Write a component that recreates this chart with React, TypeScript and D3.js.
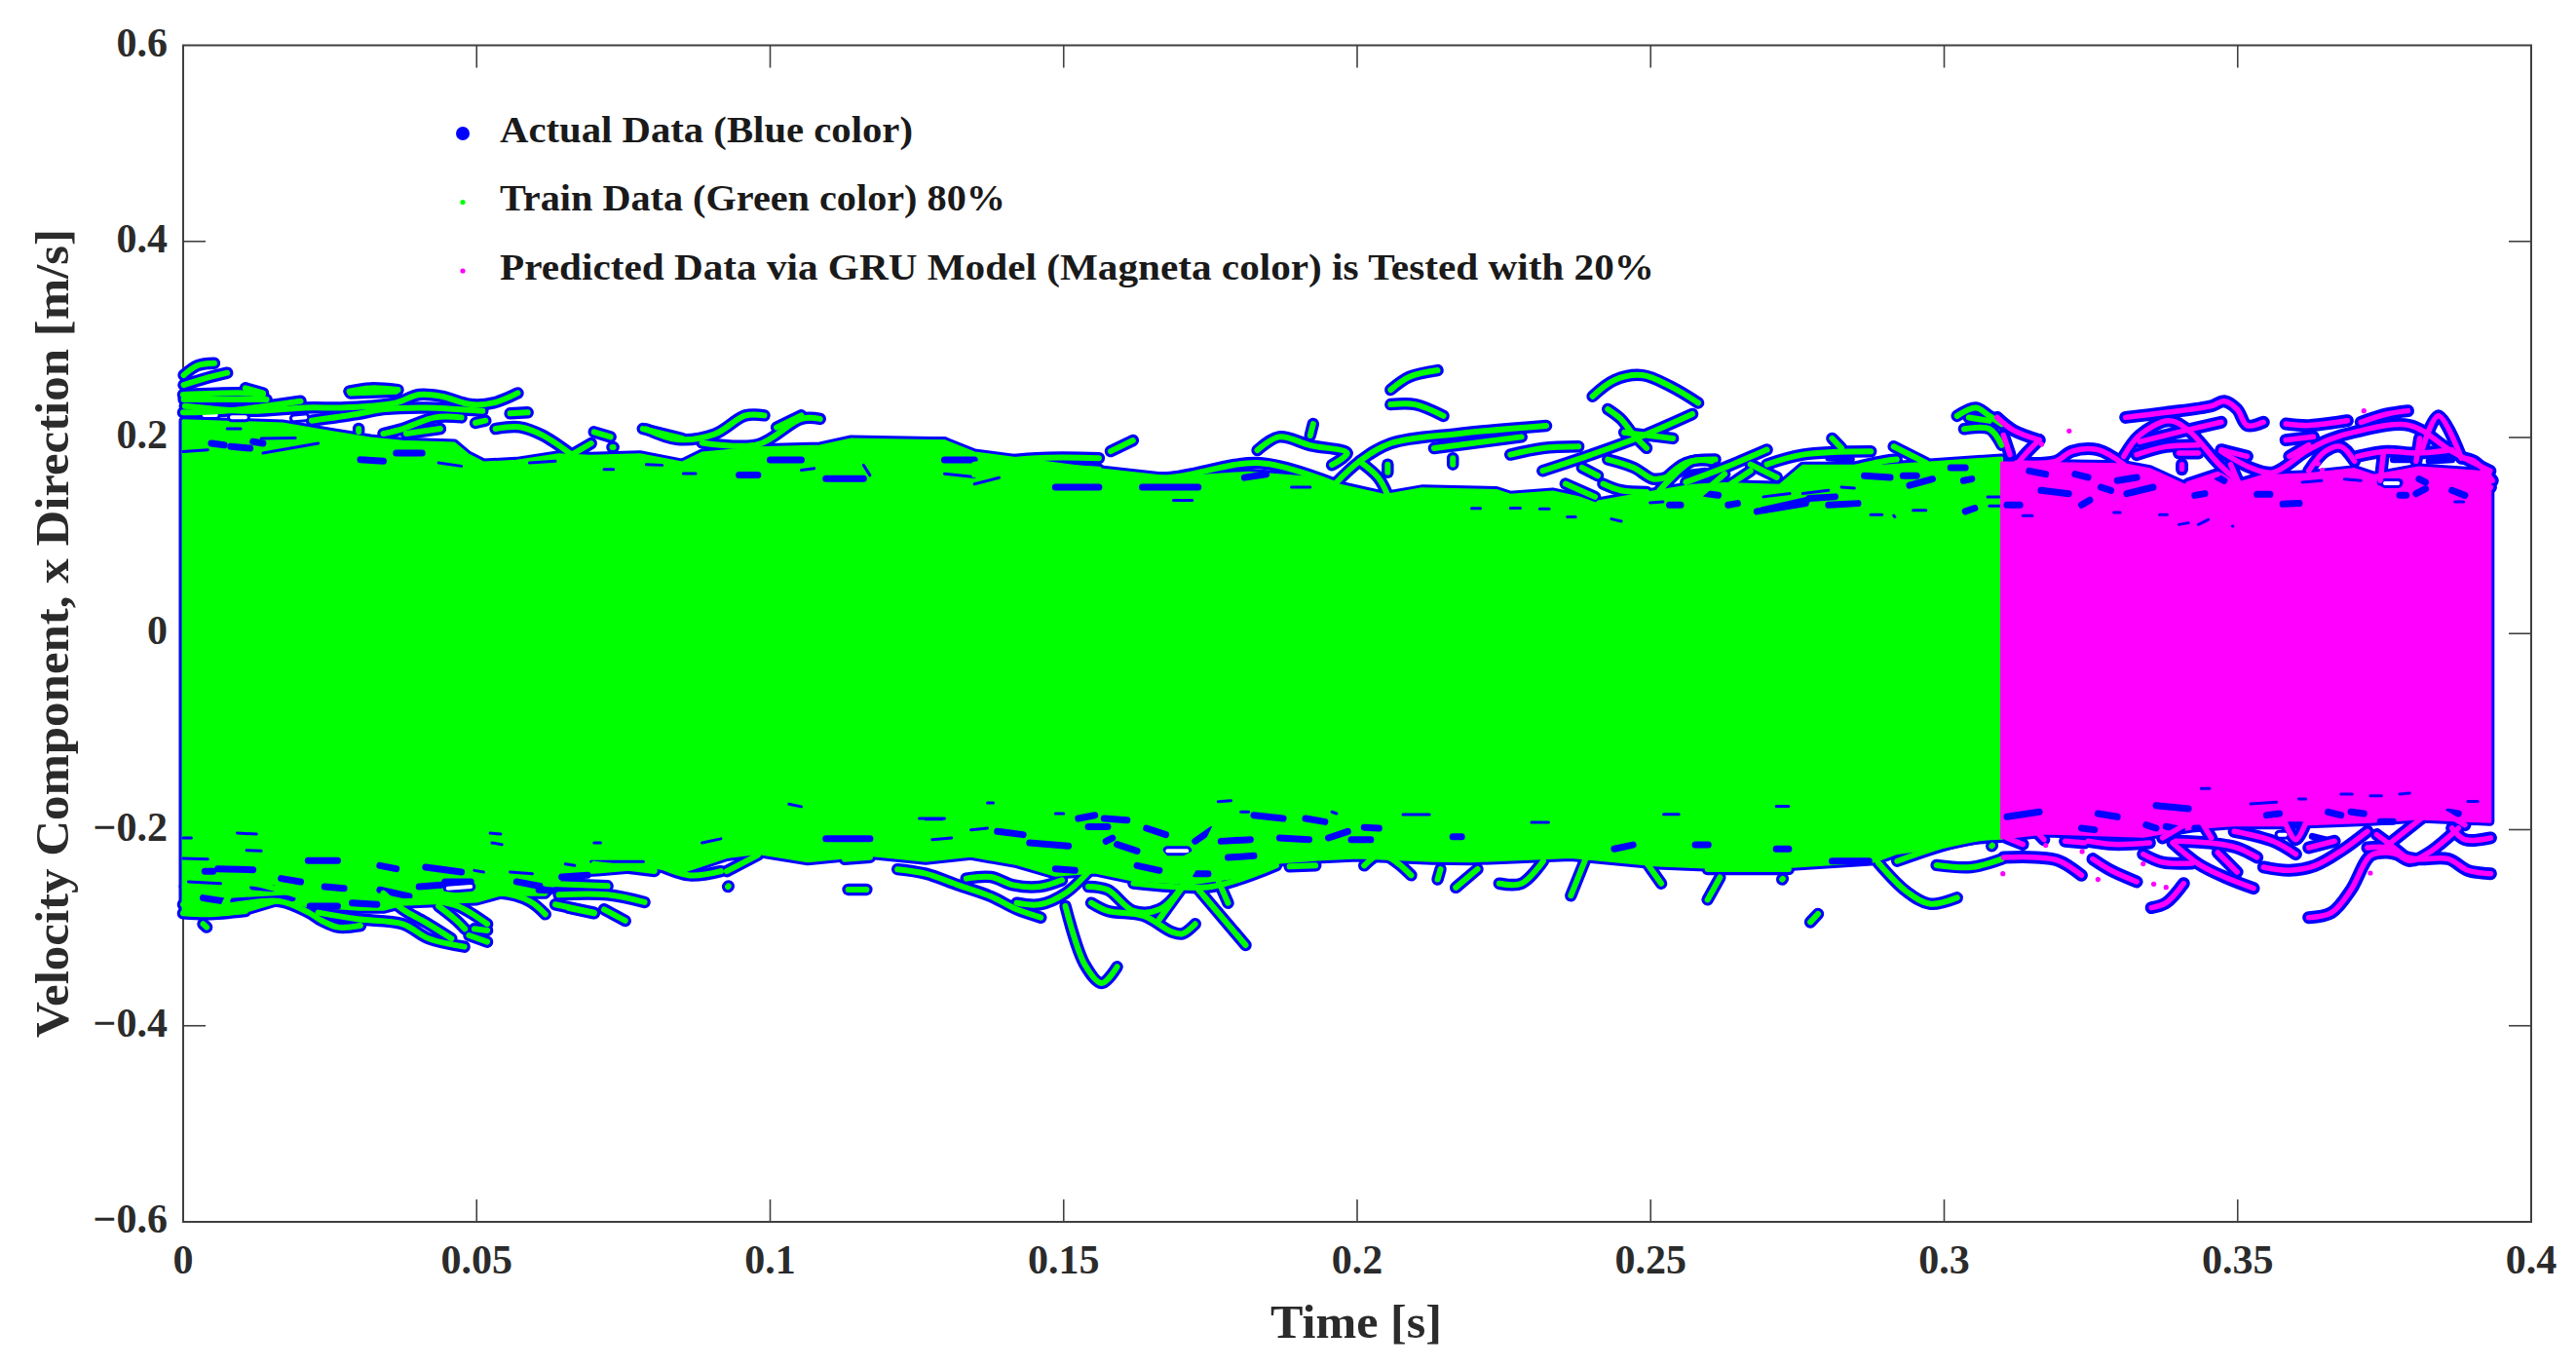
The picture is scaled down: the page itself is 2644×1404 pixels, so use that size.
import * as d3 from "d3";

type Pt = [number, number];

const WIDTH = 2644;
const HEIGHT = 1404;
const FONT = "'Liberation Serif', serif";
const TEXT_COLOR = "#2b2b2b";
const AXIS_COLOR = "#404040";

const xTicks = [0, 0.05, 0.1, 0.15, 0.2, 0.25, 0.3, 0.35, 0.4];
const xTickLabels = ["0", "0.05", "0.1", "0.15", "0.2", "0.25", "0.3", "0.35", "0.4"];
const yTicks = [0.6, 0.4, 0.2, 0, -0.2, -0.4, -0.6];
const yTickLabels = ["0.6", "0.4", "0.2", "0", "\u22120.2", "\u22120.4", "\u22120.6"];

const legendLabels = [
  "Actual Data (Blue color)",
  "Train Data (Green color) 80%",
  "Predicted Data via GRU Model (Magneta color) is Tested with 20%",
];

// solid part of the velocity band
const trainUpper: Pt[] = [
  [0, 0.2172], [0.0169, 0.2139], [0.0252, 0.2056], [0.0319, 0.199], [0.0374, 0.1957], [0.0462, 0.194],
  [0.0485, 0.1824], [0.0512, 0.1741], [0.0568, 0.1758], [0.064, 0.1824], [0.0695, 0.1808], [0.0778, 0.1824],
  [0.085, 0.1741], [0.0884, 0.1841], [0.0979, 0.1893], [0.1085, 0.1911], [0.1138, 0.198], [0.1297, 0.1963],
  [0.1348, 0.1841], [0.156, 0.1674], [0.1687, 0.1591], [0.1814, 0.164], [0.192, 0.1591], [0.1973, 0.1509],
  [0.2047, 0.1409], [0.211, 0.1475], [0.2237, 0.1459], [0.2261, 0.1411], [0.2333, 0.1444], [0.241, 0.1345],
  [0.2504, 0.1444], [0.2571, 0.1511], [0.2626, 0.1527], [0.272, 0.1511], [0.2759, 0.1709], [0.2836, 0.1709],
  [0.2897, 0.1709], [0.2975, 0.1742], [0.3098, 0.1792],
];
const trainLower: Pt[] = [
  [0, -0.2845], [0.0106, -0.2833], [0.0164, -0.273], [0.0214, -0.278], [0.03, -0.2813], [0.0341, -0.2813],
  [0.0374, -0.2763], [0.0429, -0.2747], [0.05, -0.273], [0.054, -0.2664], [0.0617, -0.2664], [0.0651, -0.2449],
  [0.0706, -0.2432], [0.0803, -0.2382], [0.0849, -0.2432], [0.0926, -0.2279], [0.0979, -0.2238], [0.1064, -0.232],
  [0.117, -0.2258], [0.1265, -0.2316], [0.1342, -0.2267], [0.142, -0.2349], [0.1486, -0.2465], [0.1553, -0.2432],
  [0.1619, -0.2515], [0.1719, -0.2548], [0.1796, -0.2482], [0.1868, -0.2333], [0.194, -0.23], [0.2001, -0.2283],
  [0.2128, -0.2316], [0.2195, -0.232], [0.2364, -0.2279], [0.2512, -0.2362], [0.2671, -0.2403], [0.2883, -0.232],
  [0.292, -0.2238], [0.2998, -0.2176], [0.3098, -0.2051],
];
const testUpper: Pt[] = [
  [0.3098, 0.1742], [0.3306, 0.1725], [0.335, 0.1676], [0.3411, 0.151], [0.3472, 0.1626], [0.3505, 0.1493],
  [0.356, 0.1609], [0.3621, 0.1626], [0.3699, 0.1676], [0.3732, 0.1609], [0.3809, 0.1692], [0.393, 0.1642],
];
const testLower: Pt[] = [
  [0.3098, -0.2084], [0.3173, -0.2035], [0.3339, -0.2068], [0.3422, -0.1985], [0.3494, -0.1952], [0.3577, -0.1952],
  [0.3726, -0.1919], [0.3809, -0.1885], [0.393, -0.1919],
];

// separate trajectories leaving the band, green part
const trainStrandsUpper: Pt[][] = [
  [[0.0001, 0.2636], [0.0025, 0.2735], [0.0053, 0.2758]],
  [[0.0001, 0.2536], [0.0037, 0.2602], [0.0075, 0.2659]],
  [[0, 0.2437], [0.0103, 0.2453], [0.0136, 0.2437]],
  [[0.0106, 0.2503], [0.0136, 0.2453]],
  [[0, 0.2255], [0.007, 0.2271], [0.02, 0.2371]],
  [[0.0001, 0.2387], [0.0142, 0.2387]],
  [[0.0003, 0.2321], [0.0114, 0.2271], [0.0208, 0.2304], [0.0269, 0.2304], [0.0319, 0.232], [0.0363, 0.2354], [0.0402, 0.2437], [0.044, 0.242], [0.049, 0.2337], [0.0529, 0.2354], [0.057, 0.2453]],
  [[0.0283, 0.247], [0.0319, 0.2503], [0.0366, 0.2486]],
  [[0.0285, 0.2453], [0.0363, 0.247]],
  [[0.0219, 0.2172], [0.0296, 0.2238], [0.0341, 0.2288], [0.0413, 0.2304], [0.051, 0.2271]],
  [[0.0341, 0.2039], [0.0374, 0.2089], [0.0429, 0.2205], [0.0474, 0.2205]],
  [[0.038, 0.2039], [0.0438, 0.2089]],
  [[0.0498, 0.2149], [0.0515, 0.2172]],
  [[0.0557, 0.2245], [0.0587, 0.2255]],
  [[0.0532, 0.2089], [0.0573, 0.2106], [0.0612, 0.2023], [0.0662, 0.1824]],
  [[0.0662, 0.1824], [0.0695, 0.194]],
  [[0.07, 0.2056], [0.0728, 0.2006]],
  [[0.0731, 0.19], [0.0733, 0.19]],
  [[0.0783, 0.2089], [0.085, 0.199]],
  [[0.0299, 0.2089], [0.0299, 0.206]],
  [[0.0789, 0.2085], [0.0842, 0.198], [0.0905, 0.2033], [0.0958, 0.2225], [0.099, 0.2225]],
  [[0.0884, 0.1946], [0.0979, 0.1928], [0.1053, 0.219], [0.1085, 0.219]],
  [[0.1011, 0.2103], [0.1053, 0.2225]],
  [[0.1138, 0.1946], [0.1297, 0.1946]],
  [[0.1348, 0.1724], [0.1454, 0.179], [0.156, 0.179]],
  [[0.1348, 0.162], [0.1443, 0.169], [0.156, 0.1674]],
  [[0.158, 0.186], [0.1618, 0.197]],
  [[0.1925, 0.2138], [0.192, 0.202]],
  [[0.183, 0.187], [0.1867, 0.2006], [0.192, 0.192], [0.1983, 0.184], [0.1957, 0.172]],
  [[0.156, 0.1624], [0.1676, 0.159], [0.1835, 0.174], [0.1962, 0.1525]],
  [[0.1962, 0.1525], [0.2004, 0.1757], [0.2057, 0.194], [0.2174, 0.204], [0.2322, 0.212]],
  [[0.2004, 0.1757], [0.2036, 0.159], [0.2052, 0.141]],
  [[0.2057, 0.2486], [0.2089, 0.2618], [0.2137, 0.2685]],
  [[0.2057, 0.2337], [0.2099, 0.2337], [0.2147, 0.222]],
  [[0.2052, 0.1724], [0.2052, 0.1645]],
  [[0.2163, 0.179], [0.2163, 0.1725]],
  [[0.2131, 0.189], [0.228, 0.2006]],
  [[0.2401, 0.242], [0.2438, 0.2585], [0.2486, 0.2635], [0.2534, 0.252], [0.2581, 0.2353]],
  [[0.2427, 0.2289], [0.2449, 0.219], [0.2471, 0.2024], [0.2493, 0.1892]],
  [[0.2316, 0.166], [0.2399, 0.1825], [0.2482, 0.2007], [0.2571, 0.2239]],
  [[0.2455, 0.2051], [0.2538, 0.1991]],
  [[0.2383, 0.1693], [0.241, 0.161]],
  [[0.2427, 0.1776], [0.2471, 0.1693], [0.2504, 0.1577], [0.2527, 0.1593]],
  [[0.2355, 0.1527], [0.2405, 0.1395]],
  [[0.2419, 0.1527], [0.2449, 0.1461], [0.2493, 0.1444]],
  [[0.2515, 0.1461], [0.2571, 0.1759], [0.2604, 0.1759]],
  [[0.2527, 0.1593], [0.256, 0.1742], [0.261, 0.1776]],
  [[0.256, 0.1544], [0.2626, 0.1693], [0.2698, 0.1875]],
  [[0.2698, 0.1726], [0.2759, 0.1825], [0.2875, 0.1858]],
  [[0.2809, 0.1991], [0.2825, 0.1892]],
  [[0.2914, 0.1908], [0.2969, 0.1742]],
  [[0.2587, 0.1428], [0.2626, 0.1627]],
  [[0.2637, 0.1527], [0.267, 0.166]],
  [[0.267, 0.1726], [0.2715, 0.1593]],
  [[0.2261, 0.1825], [0.2316, 0.1891], [0.2377, 0.1908]],
  [[0.2847, 0.1693], [0.2897, 0.1759], [0.2919, 0.1776]],
  [[0.2626, 0.1494], [0.2698, 0.1494]],
  [[0.3022, 0.222], [0.3054, 0.2303], [0.3077, 0.222], [0.3098, 0.2137]],
  [[0.3034, 0.2087], [0.3077, 0.2087], [0.3098, 0.1922]],
  [[0.3042, 0.2203], [0.3077, 0.217]],
];
const trainStrandsLower: Pt[][] = [
  [[0, -0.2853], [0.0042, -0.2863], [0.0106, -0.283]],
  [[0.0034, -0.2962], [0.004, -0.2995]],
  [[0, -0.2763], [0.002, -0.278]],
  [[0.0075, -0.278], [0.0164, -0.273], [0.0214, -0.2846], [0.0236, -0.2929], [0.0264, -0.2995], [0.0302, -0.2979]],
  [[0.007, -0.2763], [0.0078, -0.2664]],
  [[0.0081, -0.2631], [0.0109, -0.2548], [0.0164, -0.2614], [0.0208, -0.2697]],
  [[0.0003, -0.2581], [0.0048, -0.2614], [0.0098, -0.2565]],
  [[0.023, -0.2846], [0.0297, -0.2912], [0.0374, -0.2962], [0.0418, -0.3111], [0.0479, -0.3194]],
  [[0.0341, -0.2647], [0.0374, -0.2813], [0.0413, -0.2946], [0.0457, -0.3111]],
  [[0.0379, -0.273], [0.0429, -0.273], [0.0468, -0.278], [0.0518, -0.2962]],
  [[0.0435, -0.278], [0.0463, -0.2912], [0.048, -0.3012]],
  [[0.0487, -0.3078], [0.0518, -0.3144]],
  [[0.0496, -0.3012], [0.0518, -0.3028]],
  [[0.0435, -0.2647], [0.0485, -0.268], [0.054, -0.2647], [0.059, -0.273], [0.0617, -0.2863]],
  [[0.0634, -0.2763], [0.07, -0.2846]],
  [[0.0617, -0.2548], [0.0723, -0.2575]],
  [[0.064, -0.2664], [0.0723, -0.2664], [0.0786, -0.274]],
  [[0.0717, -0.2813], [0.0753, -0.2929]],
  [[0.07, -0.2349], [0.0803, -0.2422]],
  [[0.0656, -0.2797], [0.07, -0.2853]],
  [[0.081, -0.2362], [0.0863, -0.2466], [0.0916, -0.2424]],
  [[0.0926, -0.2424], [0.0979, -0.2259]],
  [[0.0928, -0.2582], [0.0929, -0.2576]],
  [[0.1133, -0.261], [0.1164, -0.261]],
  [[0.1127, -0.23], [0.117, -0.228]],
  [[0.1217, -0.2404], [0.1265, -0.2449], [0.132, -0.2565], [0.1376, -0.2681], [0.142, -0.2813], [0.1461, -0.2896]],
  [[0.142, -0.2747], [0.1459, -0.2763], [0.1503, -0.2648], [0.1547, -0.2399]],
  [[0.1334, -0.2498], [0.1376, -0.2482], [0.1414, -0.2565], [0.1459, -0.2581], [0.1497, -0.2515]],
  [[0.1503, -0.278], [0.1536, -0.3376], [0.1565, -0.3565], [0.1591, -0.3399]],
  [[0.1547, -0.2747], [0.1575, -0.2829], [0.1636, -0.2879], [0.1685, -0.3045], [0.1702, -0.3062], [0.1724, -0.2962]],
  [[0.1542, -0.2581], [0.1575, -0.2614], [0.1619, -0.2829], [0.1663, -0.2813], [0.1702, -0.2581], [0.1757, -0.1985]],
  [[0.1663, -0.2913], [0.1707, -0.2548]],
  [[0.173, -0.2614], [0.181, -0.3178]],
  [[0.1752, -0.2366], [0.178, -0.2747]],
  [[0.1619, -0.2548], [0.1752, -0.2581], [0.1862, -0.2366]],
  [[0.1885, -0.2376], [0.1929, -0.2366]],
  [[0.2012, -0.2366], [0.204, -0.225], [0.2067, -0.2333], [0.2092, -0.2465]],
  [[0.1663, -0.2217], [0.1685, -0.2333], [0.1719, -0.225]],
  [[0.2142, -0.2403], [0.2137, -0.2507]],
  [[0.2168, -0.259], [0.2205, -0.2403]],
  [[0.2242, -0.2549], [0.228, -0.2549], [0.2317, -0.232]],
  [[0.2364, -0.2673], [0.2396, -0.2196]],
  [[0.2491, -0.232], [0.2518, -0.2549]],
  [[0.2597, -0.2714], [0.2618, -0.2487]],
  [[0.2597, -0.2403], [0.2735, -0.2403]],
  [[0.2724, -0.2507], [0.2725, -0.2501]],
  [[0.2772, -0.2943], [0.2785, -0.286]],
  [[0.2888, -0.2341], [0.2936, -0.2632], [0.2975, -0.2756], [0.3022, -0.2694]],
  [[0.2987, -0.2362], [0.3046, -0.2383], [0.3098, -0.23]],
  [[0.292, -0.232], [0.303, -0.2113], [0.3098, -0.2072]],
  [[0.3081, -0.2167], [0.3082, -0.2161]],
];

// same thing for the tested part, magenta on blue
const testStrands: Pt[][] = [
  [[0.309, 0.2205], [0.3118, 0.2073], [0.3162, 0.1974]],
  [[0.3162, 0.1974], [0.314, 0.1841], [0.3126, 0.1742]],
  [[0.3101, 0.2023], [0.3112, 0.1825]],
  [[0.3123, 0.1742], [0.319, 0.1758], [0.3217, 0.1858], [0.3262, 0.1874], [0.3306, 0.1725]],
  [[0.3306, 0.1808], [0.3333, 0.2023], [0.3383, 0.2172], [0.3416, 0.2073], [0.3466, 0.1742], [0.3505, 0.1526]],
  [[0.3309, 0.2205], [0.3378, 0.2255], [0.3455, 0.2321], [0.3477, 0.2371], [0.3499, 0.2288], [0.3516, 0.2123], [0.3544, 0.2156]],
  [[0.3333, 0.1957], [0.34, 0.2056], [0.3472, 0.2156]],
  [[0.3328, 0.1825], [0.3378, 0.1907], [0.3433, 0.1924]],
  [[0.34, 0.1841], [0.3433, 0.1841]],
  [[0.3405, 0.1676], [0.3405, 0.1725]],
  [[0.3472, 0.1874], [0.3516, 0.1808]],
  [[0.3472, 0.1858], [0.3522, 0.1692], [0.356, 0.1642], [0.3616, 0.1858], [0.3654, 0.1974], [0.3699, 0.2056], [0.3793, 0.2123], [0.3865, 0.1858], [0.393, 0.1659]],
  [[0.3582, 0.2139], [0.3621, 0.2123], [0.3687, 0.2172]],
  [[0.371, 0.2156], [0.3754, 0.2239], [0.379, 0.2272]],
  [[0.3582, 0.1974], [0.3629, 0.2007]],
  [[0.3588, 0.1808], [0.3621, 0.1924]],
  [[0.3621, 0.1659], [0.3649, 0.1858], [0.3676, 0.1907], [0.3699, 0.1758]],
  [[0.3704, 0.1808], [0.3754, 0.1858], [0.3804, 0.1841], [0.3865, 0.1874]],
  [[0.3815, 0.1891], [0.3842, 0.2222], [0.3881, 0.1791]],
  [[0.3881, 0.1791], [0.3903, 0.1758], [0.3934, 0.156]],
  [[0.3748, 0.1825], [0.3743, 0.156]],
  [[0.381, 0.199], [0.3804, 0.1758]],
  [[0.3892, 0.1626], [0.3931, 0.1493]],
  [[0.3488, 0.1725], [0.3505, 0.1493]],
  [[0.3466, 0.1626], [0.3416, 0.1526]],
  [[0.3505, 0.1526], [0.356, 0.1626]],
  [[0.3101, -0.2283], [0.3156, -0.2283], [0.3195, -0.2316], [0.3234, -0.2465]],
  [[0.3253, -0.2299], [0.3284, -0.2415], [0.3328, -0.2531]],
  [[0.3353, -0.2796], [0.3378, -0.2747], [0.3408, -0.2548]],
  [[0.3389, -0.2134], [0.3433, -0.2349], [0.3477, -0.2482], [0.3527, -0.2598]],
  [[0.3466, -0.2233], [0.3499, -0.2432]],
  [[0.3621, -0.2896], [0.366, -0.2846], [0.3693, -0.2614], [0.3726, -0.2266], [0.3754, -0.2233], [0.3804, -0.2299], [0.3859, -0.2299], [0.3892, -0.2415], [0.3931, -0.2449]],
  [[0.3721, -0.2184], [0.3754, -0.2184], [0.3793, -0.2316], [0.3826, -0.2233], [0.3876, -0.1985]],
  [[0.3737, -0.2051], [0.3759, -0.215], [0.3793, -0.2316]],
  [[0.3865, -0.1985], [0.3887, -0.2101], [0.3931, -0.2084]],
  [[0.3544, -0.2382], [0.3588, -0.2415], [0.3632, -0.2366], [0.3676, -0.2217], [0.3721, -0.2018]],
  [[0.3394, -0.2117], [0.345, -0.2134], [0.3499, -0.2184], [0.3533, -0.2283]],
  [[0.3339, -0.225], [0.3372, -0.2333], [0.3422, -0.2343]],
  [[0.3206, -0.2117], [0.3239, -0.2134]],
  [[0.3494, -0.2018], [0.356, -0.2117], [0.3599, -0.225]],
  [[0.3621, -0.2184], [0.3665, -0.2117]],
  [[0.3245, -0.2117], [0.3289, -0.215], [0.335, -0.2134]],
  [[0.3107, -0.2084], [0.3134, -0.215]],
  [[0.3162, -0.2051], [0.317, -0.2101]],
  [[0.3433, -0.1869], [0.3455, -0.2084]],
  [[0.358, -0.1919], [0.3599, -0.2101], [0.3621, -0.1852]],
  [[0.3372, -0.2084], [0.3433, -0.1869]],
  [[0.3743, -0.2217], [0.3837, -0.177]],
  [[0.3837, -0.177], [0.3887, -0.1952]],
];

const strayPoints: Pt[] = [
  [0.31, -0.2449], [0.3173, -0.216], [0.3235, -0.2223], [0.3262, -0.2508], [0.3357, -0.2555], [0.3378, -0.2588],
  [0.3726, -0.2442], [0.3339, -0.2349], [0.3213, 0.2066], [0.3166, 0.1931], [0.3715, 0.2272], [0.3637, 0.1732], [0.3644, 0.1666],
];

// blue showing through gaps in the dense part, larger ones and slivers
const trainGapsWide: Pt[][] = [
  [[0.0048, 0.194], [0.007, 0.1923]], [[0.0081, 0.1907], [0.0114, 0.189]], [[0.0119, 0.1957], [0.0136, 0.194]],
  [[0.0363, 0.184], [0.0407, 0.184]], [[0.0302, 0.1774], [0.0341, 0.1758]], [[0.0947, 0.1618], [0.0979, 0.1618]],
  [[0.1, 0.1771], [0.1053, 0.1771]], [[0.1095, 0.1579], [0.1159, 0.1579]], [[0.1297, 0.1771], [0.1348, 0.1771]],
  [[0.1486, 0.1492], [0.156, 0.1492]], [[0.1634, 0.1492], [0.1729, 0.1492]], [[0.1808, 0.1591], [0.1845, 0.1624]],
  [[0.2692, 0.126], [0.2766, 0.136]], [[0.2681, 0.1246], [0.2764, 0.1328]], [[0.2803, 0.1312], [0.2853, 0.1328]],
  [[0.277, 0.1378], [0.2814, 0.1395]], [[0.2532, 0.1312], [0.2551, 0.1312]], [[0.2632, 0.1312], [0.2648, 0.1328]],
  [[0.2864, 0.161], [0.2908, 0.1593]], [[0.2941, 0.1511], [0.298, 0.1577]], [[0.3033, 0.156], [0.3047, 0.1577]],
  [[0.3036, 0.1246], [0.3052, 0.1279]], [[0.3011, 0.1693], [0.3036, 0.1693]], [[0.293, 0.161], [0.2953, 0.161]],
  [[0.2593, 0.1428], [0.2615, 0.1411]], [[0.2361, 0.1478], [0.2405, 0.1378]], [[0.2549, 0.1627], [0.2593, 0.166]],
  [[0.2803, 0.1792], [0.2842, 0.1776]],
  [[0.0059, -0.2399], [0.0119, -0.2409]], [[0.0037, -0.2426], [0.0051, -0.2426]], [[0.0086, -0.273], [0.0186, -0.2697]],
  [[0.0167, -0.2498], [0.02, -0.2532]], [[0.0213, -0.2316], [0.0263, -0.2316]], [[0.0241, -0.2581], [0.0274, -0.2598]],
  [[0.0216, -0.278], [0.0263, -0.278]], [[0.0288, -0.2747], [0.033, -0.2763]], [[0.0241, -0.2879], [0.0285, -0.2896]],
  [[0.0335, -0.2614], [0.0385, -0.268]], [[0.0413, -0.2382], [0.0474, -0.2432]], [[0.0335, -0.2366], [0.0363, -0.2399]],
  [[0.0568, -0.2531], [0.0612, -0.2581]], [[0.0606, -0.2614], [0.0706, -0.2647]], [[0.0402, -0.2581], [0.044, -0.2565]],
  [[0.0446, -0.2531], [0.049, -0.2531]], [[0.0645, -0.2482], [0.0689, -0.2465]], [[0.0034, -0.2697], [0.007, -0.273]],
  [[0.0119, -0.2581], [0.0153, -0.2598]], [[0.1095, -0.2093], [0.117, -0.2093]],
  [[0.1442, -0.2134], [0.1508, -0.2167]], [[0.1387, -0.2018], [0.1431, -0.2051]], [[0.1542, -0.1969], [0.1575, -0.1969]],
  [[0.1525, -0.1886], [0.1553, -0.1853]], [[0.1569, -0.1886], [0.1608, -0.1902]], [[0.1591, -0.2151], [0.1625, -0.2217]],
  [[0.1572, -0.2118], [0.1583, -0.2085]], [[0.1641, -0.1985], [0.1674, -0.2051]], [[0.1724, -0.2118], [0.1752, -0.2002]],
  [[0.1768, -0.2118], [0.1818, -0.2101]], [[0.1868, -0.2084], [0.1918, -0.2101]], [[0.1951, -0.2084], [0.1984, -0.2018]],
  [[0.199, -0.2101], [0.2023, -0.2101]], [[0.1824, -0.1853], [0.1874, -0.1886]], [[0.1912, -0.1886], [0.1945, -0.1919]],
  [[0.2012, -0.1978], [0.2037, -0.1985]], [[0.178, -0.2283], [0.1824, -0.2267]], [[0.1486, -0.2399], [0.1519, -0.2416]],
  [[0.1625, -0.2366], [0.1663, -0.2416]], [[0.1724, -0.2449], [0.1746, -0.2449]],
  [[0.2438, -0.2196], [0.247, -0.2155]], [[0.2809, -0.232], [0.2872, -0.232]], [[0.2576, -0.2155], [0.2598, -0.2155]],
  [[0.2163, -0.2072], [0.2178, -0.2072]], [[0.2714, -0.2196], [0.2735, -0.2196]],
];
const trainGapsThin: Pt[][] = [
  [[0.0025, 0.2371], [0.0059, 0.2381]], [[0.0136, 0.1841], [0.023, 0.194]], [[0.0435, 0.1741], [0.0474, 0.1708]],
  [[0, 0.1857], [0.0042, 0.1874]], [[0.0075, 0.2089], [0.0098, 0.2089]], [[0.0133, 0.199], [0.0191, 0.1996]],
  [[0.059, 0.1741], [0.0634, 0.1758]], [[0.0717, 0.1675], [0.0733, 0.1675]], [[0.0789, 0.1725], [0.0816, 0.1718]],
  [[0.0852, 0.1632], [0.0873, 0.1632]], [[0.1159, 0.1719], [0.117, 0.1614]], [[0.1297, 0.163], [0.1348, 0.1597]],
  [[0.1053, 0.1667], [0.1075, 0.1684]], [[0.1348, 0.1525], [0.139, 0.159]], [[0.1687, 0.136], [0.1719, 0.136]],
  [[0.1888, 0.1492], [0.192, 0.1492]], [[0.2195, 0.1277], [0.221, 0.1277]], [[0.2311, 0.1272], [0.2327, 0.1272]],
  [[0.2499, 0.1335], [0.2521, 0.1345]], [[0.2692, 0.1395], [0.2737, 0.1428]], [[0.2825, 0.1494], [0.2847, 0.1484]],
  [[0.2875, 0.1212], [0.2894, 0.1212]], [[0.2914, 0.1203], [0.2916, 0.119]], [[0.2358, 0.1189], [0.2372, 0.1189]],
  [[0.3074, 0.1395], [0.3097, 0.1395]], [[0.3077, 0.1302], [0.3097, 0.1302]], [[0.2947, 0.1256], [0.2969, 0.1256]],
  [[0.2759, 0.1428], [0.2803, 0.1461]], [[0.2433, 0.1169], [0.245, 0.1146]], [[0.2261, 0.1279], [0.2278, 0.1279]],
  [[0, -0.2084], [0.0014, -0.2084]], [[0.0092, -0.2035], [0.0125, -0.2045]], [[0.0108, -0.221], [0.0133, -0.2217]],
  [[0, -0.2293], [0.0042, -0.23]], [[0.0526, -0.2134], [0.0543, -0.2151]], [[0.0695, -0.2326], [0.0784, -0.2326]],
  [[0.0009, -0.2531], [0.0064, -0.2548]], [[0.0523, -0.2035], [0.0541, -0.2045]], [[0.07, -0.2134], [0.0711, -0.2134]],
  [[0.0496, -0.2416], [0.0512, -0.2432]], [[0.0557, -0.2432], [0.0595, -0.2449]], [[0.0651, -0.235], [0.0667, -0.2366]],
  [[0.0884, -0.2134], [0.0916, -0.2093]], [[0.1254, -0.1885], [0.1297, -0.1885]], [[0.1032, -0.174], [0.1053, -0.1765]],
  [[0.1265, -0.1892], [0.1293, -0.1892]], [[0.1342, -0.2002], [0.137, -0.1985]], [[0.1486, -0.1836], [0.15, -0.1836]],
  [[0.137, -0.1727], [0.138, -0.1727]], [[0.1763, -0.1714], [0.1785, -0.1704]], [[0.1276, -0.2101], [0.1309, -0.2084]],
  [[0.2078, -0.1846], [0.2123, -0.1846]], [[0.1802, -0.1819], [0.1815, -0.1819]], [[0.1957, -0.1819], [0.1965, -0.1836]],
  [[0.2714, -0.1761], [0.2735, -0.1761]], [[0.2297, -0.1926], [0.2326, -0.1926]], [[0.2522, -0.1844], [0.2548, -0.1844]],
];
const testGapsWide: Pt[][] = [
  [[0.3145, 0.1659], [0.3173, 0.1626]], [[0.3223, 0.1626], [0.3245, 0.1593]], [[0.3165, 0.146], [0.3212, 0.1427]],
  [[0.3267, 0.1493], [0.3284, 0.146]], [[0.3295, 0.156], [0.3328, 0.1593]], [[0.3311, 0.1427], [0.3356, 0.1493]],
  [[0.3234, 0.1311], [0.3248, 0.1361]], [[0.3107, 0.1311], [0.3129, 0.1311]], [[0.3427, 0.141], [0.3444, 0.1427]],
  [[0.3533, 0.142], [0.3555, 0.142]], [[0.3577, 0.1321], [0.3605, 0.1328]], [[0.3466, 0.1593], [0.3477, 0.156]],
  [[0.3743, 0.1543], [0.3776, 0.1543]], [[0.3776, 0.141], [0.3787, 0.141]], [[0.3804, 0.1427], [0.382, 0.1477]],
  [[0.3809, 0.1576], [0.382, 0.1543]], [[0.3865, 0.146], [0.3887, 0.141]], [[0.3765, 0.1775], [0.3793, 0.1775]],
  [[0.3837, 0.1941], [0.386, 0.1858]], [[0.3826, 0.1758], [0.3865, 0.1775]],
  [[0.3361, -0.1753], [0.3416, -0.1786]], [[0.3693, -0.1819], [0.3715, -0.1836]], [[0.3549, -0.1852], [0.3571, -0.1836]],
  [[0.3262, -0.1836], [0.3295, -0.1869]], [[0.3344, -0.1952], [0.3361, -0.1985]], [[0.3378, -0.1968], [0.3405, -0.2001]],
  [[0.3427, -0.1985], [0.344, -0.1985]], [[0.3234, -0.1985], [0.3256, -0.2001]], [[0.3588, -0.1952], [0.361, -0.1952]],
  [[0.3654, -0.1819], [0.3676, -0.1852]], [[0.3743, -0.1919], [0.3765, -0.1919]], [[0.3859, -0.1819], [0.3876, -0.1836]],
  [[0.3627, -0.2068], [0.3649, -0.2101]], [[0.3107, -0.1869], [0.3162, -0.1819]],
];
const testGapsThin: Pt[][] = [
  [[0.34, 0.1112], [0.3416, 0.1129]], [[0.3433, 0.1112], [0.345, 0.1162]], [[0.3491, 0.1096], [0.3492, 0.1096]],
  [[0.3367, 0.1212], [0.338, 0.1212]], [[0.3289, 0.1235], [0.33, 0.1235]], [[0.3134, 0.1202], [0.315, 0.1202]],
  [[0.361, 0.1543], [0.3643, 0.156]], [[0.387, 0.1344], [0.3885, 0.1344]], [[0.3682, 0.1576], [0.371, 0.156]],
  [[0.3776, -0.1637], [0.3793, -0.1627]], [[0.3892, -0.1713], [0.3909, -0.1713]], [[0.3604, -0.1687], [0.3616, -0.1686]],
  [[0.3726, -0.1654], [0.3745, -0.1654]], [[0.3676, -0.1637], [0.3695, -0.1637]], [[0.3438, -0.1581], [0.3452, -0.1581]],
  [[0.3522, -0.1736], [0.3566, -0.172]],
];

// small white holes left inside the dense part
const trainHoles: Pt[][] = [
  [[0.0451, -0.2598], [0.049, -0.2581]], [[0.0036, 0.2228], [0.0056, 0.2228]], [[0.0083, 0.2205], [0.0106, 0.2205]],
  [[0.0189, 0.2195], [0.0208, 0.2205]], [[0.1677, -0.2217], [0.171, -0.2217]],
];
const testHoles: Pt[][] = [
  [[0.3751, 0.1533], [0.3773, 0.1533]], [[0.3571, -0.2051], [0.3581, -0.2051]],
];

const x = d3.scaleLinear().domain([0, 0.4]).range([188, 2598]);
const y = d3.scaleLinear().domain([-0.6, 0.6]).range([1254, 46.5]);

const strandPath = d3
  .line<Pt>()
  .x((d) => x(d[0]))
  .y((d) => y(d[1]))
  .curve(d3.curveCatmullRom.alpha(0.5));
const bandPath = d3
  .line<Pt>()
  .x((d) => x(d[0]))
  .y((d) => y(d[1]));

const band = (upper: Pt[], lower: Pt[]) => bandPath([...upper, ...[...lower].reverse()]) + "Z";

function Strands({ list, color, width }: { list: Pt[][]; color: string; width: number }) {
  return (
    <g fill="none" stroke={color} strokeWidth={width} strokeLinecap="round" strokeLinejoin="round">
      {list.map((s, i) => (
        <path key={i} d={strandPath(s) ?? ""} />
      ))}
    </g>
  );
}

export default function App() {
  const trainAll = [...trainStrandsUpper, ...trainStrandsLower];
  const [x0, x1] = x.range();
  const [y0, y1] = y.range();
  const tick = 23;
  return (
    <svg
      width={WIDTH}
      height={HEIGHT}
      style={{ position: "absolute", left: 0, top: 0, background: "#fff" }}
      fontFamily={FONT}
      fontWeight="bold"
      fill={TEXT_COLOR}
    >
      {/* axes box and ticks */}
      <rect x={x0} y={y1} width={x1 - x0} height={y0 - y1} fill="none" stroke={AXIS_COLOR} strokeWidth={2} />
      <g stroke={AXIS_COLOR} strokeWidth={1.6}>
        {xTicks.slice(1, -1).map((t) => (
          <g key={t}>
            <line x1={x(t)} x2={x(t)} y1={y0} y2={y0 - tick} />
            <line x1={x(t)} x2={x(t)} y1={y1} y2={y1 + tick} />
          </g>
        ))}
        {yTicks.slice(1, -1).map((t) => (
          <g key={t}>
            <line x1={x0} x2={x0 + tick} y1={y(t)} y2={y(t)} />
            <line x1={x1} x2={x1 - tick} y1={y(t)} y2={y(t)} />
          </g>
        ))}
      </g>

      {/* actual data */}
      <path d={band(trainUpper, trainLower)} fill="#0000ff" stroke="#0000ff" strokeWidth={9} strokeLinejoin="round" />
      <path d={band(testUpper, testLower)} fill="#0000ff" stroke="#0000ff" strokeWidth={9} strokeLinejoin="round" />
      <Strands list={trainAll} color="#0000ff" width={12.5} />
      <Strands list={testStrands} color="#0000ff" width={13} />

      {/* train data */}
      <path d={band(trainUpper, trainLower)} fill="#00ff00" stroke="#00ff00" strokeWidth={3} strokeLinejoin="round" />
      <Strands list={trainGapsThin} color="#0000ff" width={3} />
      <Strands list={trainGapsWide} color="#0000ff" width={7} />
      <Strands list={trainHoles} color="#0000ff" width={10} />
      <Strands list={trainHoles} color="#ffffff" width={4} />
      <Strands list={trainAll} color="#00ff00" width={6} />

      {/* predicted data */}
      <path d={band(testUpper, testLower)} fill="#ff00ff" stroke="#ff00ff" strokeWidth={3} strokeLinejoin="round" />
      <Strands list={testGapsThin} color="#0000ff" width={3} />
      <Strands list={testGapsWide} color="#0000ff" width={7} />
      <Strands list={testHoles} color="#0000ff" width={10} />
      <Strands list={testHoles} color="#ffffff" width={4} />
      <Strands list={testStrands} color="#ff00ff" width={5.5} />
      <g fill="#ff00ff">
        {strayPoints.map((d, i) => (
          <circle key={i} cx={x(d[0])} cy={y(d[1])} r={2.6} />
        ))}
      </g>

      {/* tick labels */}
      <g fontSize={42} textAnchor="middle">
        {xTicks.map((t, i) => (
          <text key={t} x={x(t)} y={1307}>
            {xTickLabels[i]}
          </text>
        ))}
      </g>
      <g fontSize={42} textAnchor="end">
        {yTicks.map((t, i) => (
          <text key={t} x={172} y={y(t) + 11}>
            {yTickLabels[i]}
          </text>
        ))}
      </g>

      {/* axis titles */}
      <text x={1392} y={1373} fontSize={48} textAnchor="middle" textLength={176} lengthAdjust="spacingAndGlyphs">
        Time [s]
      </text>
      <text
        transform={`translate(70,650) rotate(-90)`}
        fontSize={48}
        textAnchor="middle"
        textLength={830}
        lengthAdjust="spacingAndGlyphs"
      >
        Velocity Component, x Direction [m/s]
      </text>

      {/* legend */}
      <circle cx={475} cy={137} r={7} fill="#0000ff" />
      <circle cx={475} cy={207.5} r={2.6} fill="#00ff00" />
      <circle cx={475} cy={278} r={2.6} fill="#ff00ff" />
      <g fontSize={38} fill="#1a1a1a">
        <text x={513} y={146} textLength={424} lengthAdjust="spacingAndGlyphs">
          {legendLabels[0]}
        </text>
        <text x={513} y={216} textLength={519} lengthAdjust="spacingAndGlyphs">
          {legendLabels[1]}
        </text>
        <text x={513} y={286.5} textLength={1185} lengthAdjust="spacingAndGlyphs">
          {legendLabels[2]}
        </text>
      </g>
    </svg>
  );
}
